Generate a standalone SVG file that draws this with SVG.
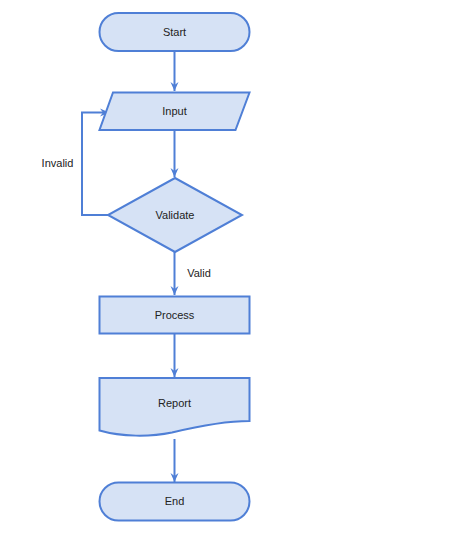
<svg xmlns="http://www.w3.org/2000/svg" width="470" height="534" viewBox="0 0 470 534">
<defs>
<style>
.n{fill:#d6e2f5;stroke:#4f7fd6;stroke-width:2}
.e{fill:none;stroke:#4f7fd6;stroke-width:2}
.t{font-family:"Liberation Sans",Arial,sans-serif;font-size:11px;fill:#222;text-anchor:middle;dominant-baseline:central}
</style>
<marker id="a" viewBox="0 0 10 10" refX="9" refY="5" markerWidth="5" markerHeight="5" orient="auto" markerUnits="strokeWidth">
<path d="M0,1 L9,5 L0,9 L3,5 Z" fill="#4f7fd6"/>
</marker>
</defs>
<rect width="470" height="534" fill="#fff"/>
<g id="connectors">
<path class="e" d="M174.5,51 V91" marker-end="url(#a)"/>
<path class="e" d="M174.5,130 V177" marker-end="url(#a)"/>
<path class="e" d="M108,215 H82 V112.5 H109" marker-end="url(#a)"/>
<path class="e" d="M174.5,252 V295" marker-end="url(#a)"/>
<path class="e" d="M174.5,334 V377" marker-end="url(#a)"/>
<path class="e" d="M174.5,439 V482" marker-end="url(#a)"/>
<text class="t" x="57.5" y="162.5">Invalid</text>
<text class="t" x="199" y="273">Valid</text>
</g>
<g id="start"><rect class="n" x="99.5" y="13" width="150" height="38" rx="19"/><text class="t" x="174.5" y="31.5">Start</text></g>
<g id="input"><path class="n" d="M113,92.5 H249.5 L235.5,130 H99.5 Z"/><text class="t" x="174.5" y="111">Input</text></g>
<g id="validate"><path class="n" d="M175,178 L242,215 L175,252 L108,215 Z"/><text class="t" x="175" y="215">Validate</text></g>
<g id="process"><rect class="n" x="99.5" y="296.5" width="150" height="37"/><text class="t" x="174.5" y="314.5">Process</text></g>
<g id="report"><path class="n" d="M99.5,378 H249.5 V421 C225,421 195,427 172,432.5 C150,437 122,437 99.5,430.5 Z"/><text class="t" x="174.5" y="402.5">Report</text></g>
<g id="end"><rect class="n" x="99.5" y="482.5" width="150" height="38" rx="19"/><text class="t" x="174.5" y="501">End</text></g>
</svg>
